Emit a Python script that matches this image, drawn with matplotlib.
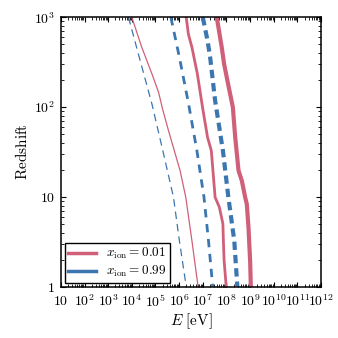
import numpy as np
import matplotlib
matplotlib.use("Agg")
import matplotlib.pyplot as plt
from matplotlib.ticker import LogLocator, FixedLocator, FuncFormatter

plt.rcParams['mathtext.fontset'] = 'cm'
plt.rcParams['font.family'] = 'serif'
plt.rcParams['font.serif'] = ['DejaVu Serif']

# curvas: redshift y log10(E/eV)
z_fino_azul = [1000, 463, 108, 32.7, 9.9, 3.25, 1]
logE_fino_azul = [3.86, 4.20, 4.85, 5.31, 5.76, 6.01, 6.30]

z_fino_rojo = [1000, 463, 234, 146, 95, 54.6, 19.6, 9.9, 3.25, 1]
logE_fino_rojo = [4.00, 4.42, 4.85, 5.13, 5.30, 5.55, 6.04, 6.28, 6.54, 6.80]

z_medio_azul = [1000, 359, 108, 32.7, 9.9, 3.25, 1]
logE_medio_azul = [5.65, 6.01, 6.40, 6.75, 7.05, 7.24, 7.42]

z_medio_rojo = [1000, 651, 463, 234, 95, 46, 32.7, 9.9, 7.66, 5.0, 3.25, 1.95, 1]
logE_medio_rojo = [6.30, 6.39, 6.54, 6.77, 7.00, 7.20, 7.36, 7.52, 7.70, 7.85, 7.87, 7.90, 7.99]

z_grueso_azul = [1000, 549, 359, 118, 32.7, 9.9, 3.25, 1]
logE_grueso_azul = [7.00, 7.20, 7.31, 7.52, 7.85, 8.08, 8.33, 8.46]

z_grueso_rojo = [1000, 463, 302, 197, 99.5, 46, 19.6, 15.1, 9.9, 8.3, 4.6, 1.95, 1]
logE_grueso_rojo = [7.59, 7.80, 7.90, 8.04, 8.27, 8.37, 8.51, 8.65, 8.79, 8.86, 8.93, 9.00, 9.03]

etiquetas = [r'$x_{\rm ion} = 0.01$', r'$x_{\rm ion} = 0.99$']

rojo = '#d0607a'
azul = '#3b76b0'

fig = plt.figure(figsize=(3.38, 3.38), dpi=100)
ax = fig.add_axes([0.18, 0.152, 0.77, 0.797])

ax.plot(10**np.array(logE_fino_azul), z_fino_azul, color=azul, lw=0.9, dashes=(6, 4))
ax.plot(10**np.array(logE_fino_rojo), z_fino_rojo, color=rojo, lw=0.9)
ax.plot(10**np.array(logE_medio_azul), z_medio_azul, color=azul, lw=2.0, dashes=(3.0, 2.4))
ax.plot(10**np.array(logE_medio_rojo), z_medio_rojo, color=rojo, lw=2.0)
ax.plot(10**np.array(logE_grueso_azul), z_grueso_azul, color=azul, lw=3.0, dashes=(2.0, 1.2))
ax.plot(10**np.array(logE_grueso_rojo), z_grueso_rojo, color=rojo, lw=3.0)

ax.set_xscale('log')
ax.set_yscale('log')
ax.set_xlim(10, 1e12)
ax.set_ylim(1, 1000)

def formato(v, pos):
    n = int(round(np.log10(v)))
    if n == 0:
        return r'$1$'
    if n == 1:
        return r'$10$'
    return r'$10^{%d}$' % n

ax.xaxis.set_major_locator(FixedLocator([10.0**k for k in range(1, 13)]))
ax.xaxis.set_minor_locator(LogLocator(base=10, subs=np.arange(2, 10), numticks=100))
ax.yaxis.set_major_locator(FixedLocator([1, 10, 100, 1000]))
ax.yaxis.set_minor_locator(LogLocator(base=10, subs=np.arange(2, 10), numticks=100))
ax.xaxis.set_major_formatter(FuncFormatter(formato))
ax.yaxis.set_major_formatter(FuncFormatter(formato))
ax.xaxis.set_minor_formatter(FuncFormatter(lambda v, p: ''))
ax.yaxis.set_minor_formatter(FuncFormatter(lambda v, p: ''))

ax.tick_params(which='both', direction='in', top=True, right=True, labelsize=10)
ax.tick_params(axis='x', pad=5)
ax.tick_params(axis='y', pad=4)
ax.tick_params(which='major', length=3.5, width=0.8)
ax.tick_params(which='minor', length=2, width=0.6)
for s in ax.spines.values():
    s.set_linewidth(1.1)

ax.set_xlabel(r'$E\ [\mathrm{eV}]$', fontsize=11, labelpad=1)
ax.set_ylabel(r'$\mathrm{Redshift}$', fontsize=11, labelpad=3)

h1, = ax.plot([], [], color=rojo, lw=2.5)
h2, = ax.plot([], [], color=azul, lw=2.5)
leg = ax.legend([h1, h2], etiquetas, loc='lower left', fontsize=9.5, fancybox=False,
                framealpha=1, edgecolor='black', handlelength=2.1, borderaxespad=0.3,
                labelspacing=0.2, handletextpad=0.8, borderpad=0.25)
leg.get_frame().set_linewidth(1.0)

fig.savefig('out.png', dpi=100)
